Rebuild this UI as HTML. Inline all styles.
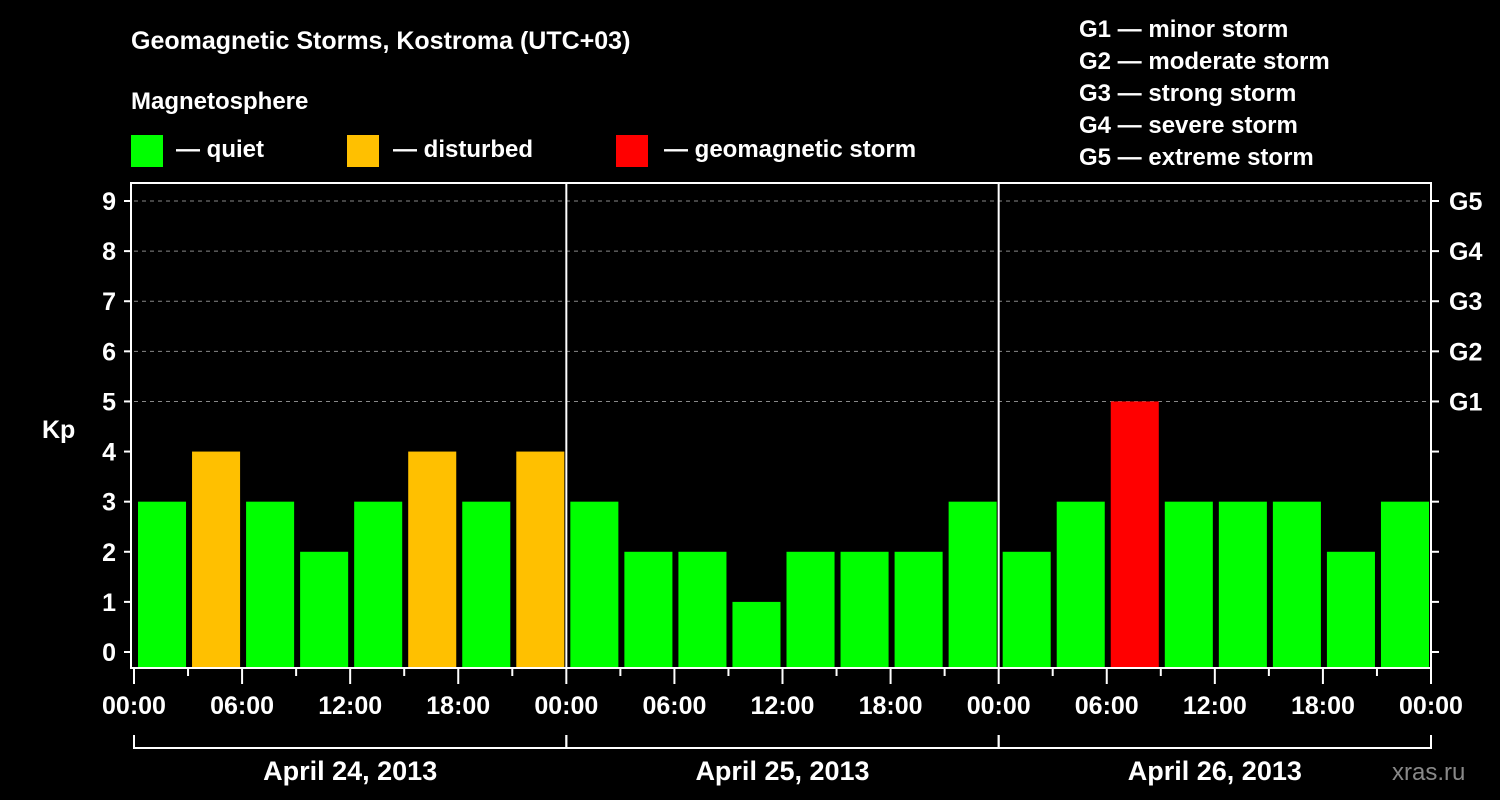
<!DOCTYPE html>
<html><head><meta charset="utf-8"><style>
body{margin:0;background:#000;}
svg{display:block;font-family:"Liberation Sans",Arial,sans-serif;font-weight:bold;}
</style></head><body>
<svg id="chart" width="1500" height="800" viewBox="0 0 1500 800">
<rect width="1500" height="800" fill="#000"/>
<text x="131" y="49" fill="#fff" font-size="25">Geomagnetic Storms, Kostroma (UTC+03)</text>
<text x="131" y="109" fill="#fff" font-size="24">Magnetosphere</text>
<g><rect x="131" y="135" width="32" height="32" fill="#00ff00"/><text x="176" y="157" fill="#fff" font-size="24">— quiet</text></g>
<g><rect x="347" y="135" width="32" height="32" fill="#ffc000"/><text x="393" y="157" fill="#fff" font-size="24">— disturbed</text></g>
<g><rect x="616" y="135" width="32" height="32" fill="#ff0000"/><text x="664" y="157" fill="#fff" font-size="24">— geomagnetic storm</text></g>
<g fill="#fff" font-size="24">
<text x="1079" y="37">G1 — minor storm</text>
<text x="1079" y="69">G2 — moderate storm</text>
<text x="1079" y="101">G3 — strong storm</text>
<text x="1079" y="133">G4 — severe storm</text>
<text x="1079" y="165">G5 — extreme storm</text>
</g>
<text x="42" y="438" fill="#fff" font-size="25">Kp</text>
<text x="1392" y="780" fill="#888" font-size="24" font-weight="normal">xras.ru</text>
<g id="plot"></g>
</svg>
<script>
const kpValues=[3,4,3,2,3,4,3,4, 3,2,2,1,2,2,2,3, 2,3,5,3,3,3,2,3];
const dayLabels=["April 24, 2013","April 25, 2013","April 26, 2013"];
const timeLabels=["00:00","06:00","12:00","18:00"];
const gLabels=["G1","G2","G3","G4","G5"];
const L=134,R=1431,T=183,B=668;
const NS="http://www.w3.org/2000/svg";
const g=document.getElementById('plot');
const xs=h=>L+h*(R-L)/72;
const ys=v=>652-v*50.11;
function mk(t,a){const e=document.createElementNS(NS,t);for(const k in a)e.setAttribute(k,a[k]);g.appendChild(e);return e;}
for(let v=5;v<=9;v++){const l=mk('line',{x1:L,x2:R,y1:ys(v),y2:ys(v),stroke:'#888','stroke-dasharray':'4,4','stroke-width':1});

}
kpValues.forEach((v,i)=>{const x0=xs(i*3);const c=v>=5?'#ff0000':(v>=4?'#ffc000':'#00ff00');
const r=mk('rect',{x:x0+4,y:ys(v),width:xs(3)-L-6,height:B-1-ys(v),fill:c});

});
const f=mk('rect',{x:L-3,y:T,width:R-L+3,height:B-T,fill:'none',stroke:'#fff','stroke-width':2});


for(const d of [1,2]){const l=mk('line',{x1:xs(d*24),x2:xs(d*24),y1:T,y2:B,stroke:'#fff','stroke-width':2});

}
for(let v=0;v<=9;v++){mk('line',{x1:L-10,x2:L-3,y1:ys(v),y2:ys(v),stroke:'#fff','stroke-width':2});
mk('line',{x1:R,x2:R+8,y1:ys(v),y2:ys(v),stroke:'#fff','stroke-width':2});
const t=mk('text',{x:L-18,y:ys(v)+9,fill:'#fff','font-size':25,'text-anchor':'end'});t.textContent=v;

}
gLabels.forEach((s,i)=>{const t=mk('text',{x:R+18,y:ys(5+i)+9,fill:'#fff','font-size':25});t.textContent=s;

});
for(let h=0;h<=72;h+=3){const major=h%6===0;mk('line',{x1:xs(h),x2:xs(h),y1:B,y2:B+(major?16:8),stroke:'#fff','stroke-width':2});
if(major){const t=mk('text',{x:xs(h),y:B+46,fill:'#fff','font-size':25,'text-anchor':'middle'});t.textContent=timeLabels[(h%24)/6];

}}
dayLabels.forEach((s,d)=>{const a=xs(d*24),b=xs(d*24+24);
const p=mk('path',{d:`M${a},735V748H${b}V735`,stroke:'#fff','stroke-width':2,fill:'none'});


const t=mk('text',{x:(a+b)/2,y:780,fill:'#fff','font-size':27,'text-anchor':'middle'});t.textContent=s;

});
</script>
</body></html>
